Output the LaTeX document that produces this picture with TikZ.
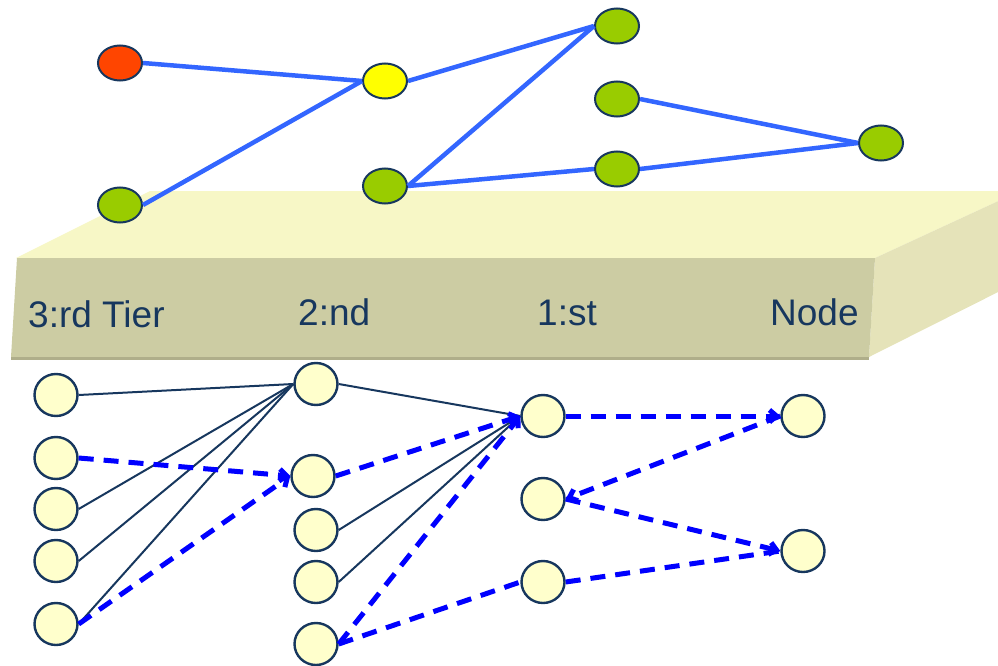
\documentclass[tikz,border=0pt]{standalone}
\usepackage{fontspec}
\setmainfont{Liberation Sans}
\usetikzlibrary{arrows.meta,shapes.geometric}

\definecolor{navy}{HTML}{17375E}
\definecolor{tierfront}{HTML}{CCCCA3}
\definecolor{tiertop}{HTML}{F7F7C6}
\definecolor{tierside}{HTML}{E5E3B9}
\definecolor{tiershadow}{HTML}{AFAE8A}
\definecolor{linkblue}{HTML}{3366FF}
\definecolor{dashblue}{HTML}{0000FF}
\definecolor{hotnode}{HTML}{FF4500}
\definecolor{hubnode}{HTML}{FFFF00}
\definecolor{leafnode}{HTML}{99CC00}
\definecolor{peernode}{HTML}{FFFFCC}

\tikzset{
  topnode/.style={ellipse, draw=navy, line width=2pt, inner sep=0pt,
    minimum width=44pt, minimum height=35pt},
  peer/.style={ellipse, draw=navy, line width=2.4pt, fill=peernode, inner sep=0pt,
    minimum width=43pt, minimum height=42pt},
  overlay link/.style={draw=linkblue, line width=4.5pt},
  tree link/.style={draw=navy, line width=2pt},
  relay link/.style={draw=dashblue, line width=5pt, dash pattern=on 15pt off 10pt},
  relay arrow/.style={relay link, -{Straight Barb[length=7pt,width=12pt]}},
  tierlabel/.style={anchor=base west, text=navy, inner sep=0pt,
    font=\fontsize{37}{44}\selectfont},
}

\begin{document}
\begin{tikzpicture}[x=1pt,y=-1pt]
\useasboundingbox (0,0) rectangle (998,666);

% the tier slab
\begin{scope}
  \clip (0,0) rectangle (998,666);
  \fill[tiertop] (16,258) -- (150,191) -- (1020,191) -- (875,258) -- cycle;
  \fill[tierside] (875,258) -- (1020,191) -- (1020,281) -- (869,357) -- cycle;
\end{scope}
\fill[tierfront] (17,258) -- (875,258) -- (869,357) -- (11,357) -- cycle;
\draw[tiershadow, line width=3pt] (11,358) -- (869,358);

\node[tierlabel] (t3) at (28,327) {3:rd Tier};
\node[tierlabel] (t2) at (298,325) {2:nd};
\node[tierlabel] (t1) at (537,325) {1:st};
\node[tierlabel] (tn) at (770,325) {Node};

% overlay graph above the slab
\node[topnode, fill=hotnode]  (src)  at (120,63)  {};
\node[topnode, fill=hubnode]  (hub)  at (385,81)  {};
\node[topnode, fill=leafnode] (gbl)  at (120,205) {};
\node[topnode, fill=leafnode] (gmid) at (385,186) {};
\node[topnode, fill=leafnode] (ga)   at (617,26)  {};
\node[topnode, fill=leafnode] (gb)   at (617,99)  {};
\node[topnode, fill=leafnode] (gc)   at (617,169) {};
\node[topnode, fill=leafnode] (gr)   at (881,143) {};

\draw[overlay link] (src.east) -- (hub.west);
\draw[overlay link] (gbl.east) -- (hub.west);
\draw[overlay link] (hub.east) -- (ga.west);
\draw[overlay link] (gmid.east) -- (ga.west);
\draw[overlay link] (gmid.east) -- (gc.west);
\draw[overlay link] (gb.east) -- (gr.west);
\draw[overlay link] (gc.east) -- (gr.west);

% tiers below the slab
\node[peer] (l1) at (56,395) {};
\node[peer] (l2) at (56,458) {};
\node[peer] (l3) at (56,509) {};
\node[peer] (l4) at (56,561) {};
\node[peer] (l5) at (56,624) {};

\node[peer] (m1) at (316,384) {};
\node[peer] (m2) at (313,476) {};
\node[peer] (m3) at (316,530) {};
\node[peer] (m4) at (316,582) {};
\node[peer] (m5) at (316,644) {};

\node[peer] (r1) at (543,416) {};
\node[peer] (r2) at (543,499) {};
\node[peer] (r3) at (543,582) {};

\node[peer] (n1) at (803,416) {};
\node[peer] (n2) at (803,551) {};

% tree links
\draw[tree link] (l1.east) -- (m1.west);
\draw[tree link] (l3.east) -- (m1.west);
\draw[tree link] (l4.east) -- (m1.west);
\draw[tree link] (l5.east) -- (m1.west);
\draw[tree link] (m1.east) -- (r1.west);
\draw[tree link] (m3.east) -- (r1.west);
\draw[tree link] (m4.east) -- (r1.west);

% relay paths
\draw[relay arrow] (l2.east) -- (m2.west);
\draw[relay arrow] (l5.east) -- (m2.west);
\draw[relay arrow] (m2.east) -- (r1.west);
\draw[relay arrow] (m5.east) -- (r1.west);
\draw[relay link]  (m5.east) -- (r3.west);
\draw[relay arrow] (r1.east) -- (n1.west);
\draw[relay arrow] (n1.west) -- (r2.east);
\draw[relay arrow] (r2.east) -- (n2.west);
\draw[relay link]  (r3.east) -- (n2.west);
\end{tikzpicture}
\end{document}
